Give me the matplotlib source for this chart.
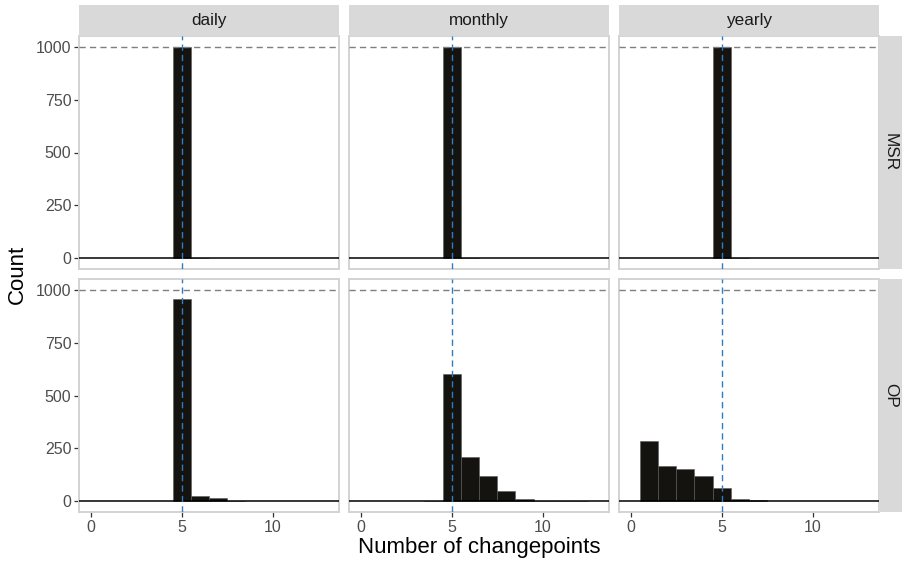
import numpy as np
import matplotlib
matplotlib.use("Agg")
import matplotlib.pyplot as plt

plt.rcParams['font.family'] = ['Liberation Sans', 'DejaVu Sans']

# Number of changepoints (histogram bins, width 1, centred on integers)
changepoints = list(range(0, 14))

# Counts per bin for each method (rows) and frequency (columns)
msr_daily   = [0, 0, 0, 0, 0, 997, 3, 0, 0, 0, 0, 0, 0, 0]
msr_monthly = [0, 0, 0, 0, 0, 998, 2, 0, 0, 0, 0, 0, 0, 0]
msr_yearly  = [0, 0, 0, 0, 0, 997, 3, 0, 0, 0, 0, 0, 0, 0]
op_daily    = [0, 0, 0, 0, 0, 955, 24, 18, 3, 0, 0, 0, 0, 0]
op_monthly  = [0, 0, 0, 0, 3, 600, 212, 120, 48, 10, 4, 1, 2, 0]
op_yearly   = [0, 284, 165, 152, 118, 61, 13, 5, 0, 0, 0, 0, 0, 0]

frequencies = ["daily", "monthly", "yearly"]
methods = ["MSR", "OP"]
counts = {
    ("MSR", "daily"): msr_daily, ("MSR", "monthly"): msr_monthly, ("MSR", "yearly"): msr_yearly,
    ("OP", "daily"): op_daily, ("OP", "monthly"): op_monthly, ("OP", "yearly"): op_yearly,
}
true_changepoints = 5
n_series = 1000

W, H = 902, 563
fig = plt.figure(figsize=(W / 100, H / 100), dpi=100)

col_x = [79, 349, 619]
col_w = 260
row_y = [36, 279]
row_h = 233
strip_h = 31
rstrip_w = 23

panel_edge = "#d3d3d3"
strip_fill = "#d9d9d9"
tick_col = "#4d4d4d"


def fx(px):
    return px / W


def fy(py):
    return 1 - py / H


for ri, m in enumerate(methods):
    for ci, f in enumerate(frequencies):
        x0, y0 = col_x[ci], row_y[ri]
        ax = fig.add_axes([fx(x0), fy(y0 + row_h), col_w / W, row_h / H])
        vals = np.array(counts[(m, f)])
        xs = np.array(changepoints)
        mask = vals > 0
        ax.bar(xs[mask], vals[mask], width=1.0, color="#141310",
               edgecolor="#5a5a5a", linewidth=0.4, zorder=2)
        ax.axhline(0, color="black", lw=1.1, zorder=3)
        ax.axhline(n_series, color="#7f7f7f", lw=1.0, dashes=(4.5, 3), zorder=4)
        ax.axvline(true_changepoints, color="#2f7cc0", lw=1.0, dashes=(4.5, 3), zorder=4)
        ax.set_xlim(-0.65, 13.65)
        ax.set_ylim(-50, 1050)
        ax.set_xticks([0, 5, 10])
        ax.set_yticks([0, 250, 500, 750, 1000])
        for s in ax.spines.values():
            s.set_color(panel_edge)
            s.set_linewidth(1.4)
        ax.tick_params(axis="both", colors="#333333", labelcolor=tick_col,
                       labelsize=11.5, length=3.5, width=0.9, pad=2)
        if ci != 0:
            ax.tick_params(axis="y", left=False, labelleft=False)
        if ri != len(methods) - 1:
            ax.tick_params(axis="x", bottom=False, labelbottom=False)
        ax.set_facecolor("white")

        # column strip
        if ri == 0:
            sax = fig.add_axes([fx(x0), fy(y0), col_w / W, strip_h / H])
            sax.set_facecolor(strip_fill)
            sax.set_xticks([]); sax.set_yticks([])
            for s in sax.spines.values():
                s.set_visible(False)
            sax.text(0.5, 0.5, f, ha="center", va="center", fontsize=12.3,
                     color="#1a1a1a", transform=sax.transAxes)
        # row strip
        if ci == len(frequencies) - 1:
            rax = fig.add_axes([fx(x0 + col_w), fy(y0 + row_h), rstrip_w / W, row_h / H])
            rax.set_facecolor(strip_fill)
            rax.set_xticks([]); rax.set_yticks([])
            for s in rax.spines.values():
                s.set_visible(False)
            rax.text(0.5, 0.5, m, ha="center", va="center", fontsize=12.3,
                     color="#1a1a1a", rotation=-90, transform=rax.transAxes)

fig.text(fx((col_x[0] + col_x[2] + col_w) / 2), fy(548), "Number of changepoints",
         ha="center", va="center", fontsize=16, color="black")
fig.text(fx(17), fy((row_y[0] + row_y[1] + row_h) / 2), "Count",
         ha="center", va="center", rotation=90, fontsize=16, color="black")

fig.savefig("out.png", dpi=100, facecolor="white")
